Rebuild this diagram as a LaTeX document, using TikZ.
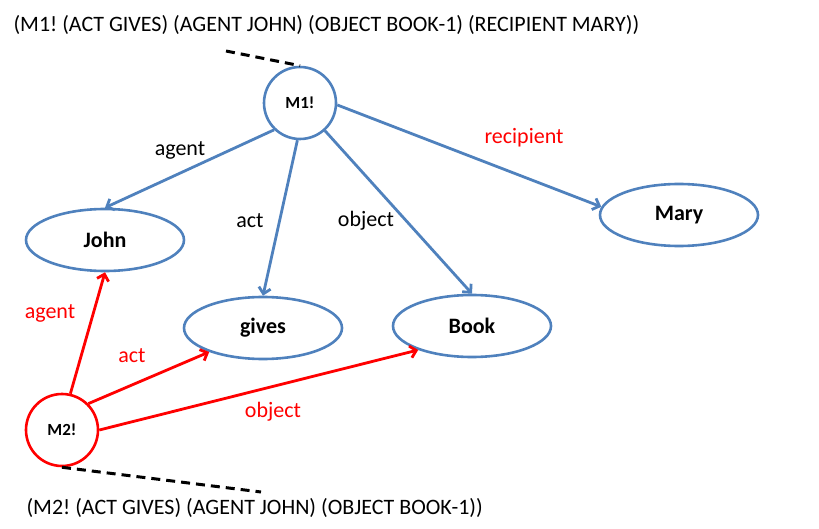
\documentclass[tikz,border=0pt]{standalone}
\usepackage{fontspec}
\setmainfont{Carlito}
\usetikzlibrary{arrows.meta,shapes.geometric}
\frenchspacing

\definecolor{nodeblue}{HTML}{4F81BD}
\definecolor{linkred}{HTML}{FF0000}

\begin{document}
\begin{tikzpicture}[x=1pt,y=-1pt,
  thing/.style={ellipse,draw=nodeblue,line width=2.6pt,inner sep=0pt,
    minimum width=158pt,minimum height=62pt,font=\fontsize{22}{26}\selectfont\bfseries},
  prop/.style={circle,line width=2.6pt,inner sep=0pt,minimum size=72pt,
    font=\fontsize{17}{20}\selectfont\bfseries},
  arc/.style={line width=2.8pt,-{Straight Barb[length=6pt,width=12pt]}},
  tag/.style={font=\fontsize{22}{26}\selectfont},
  says/.style={font=\fontsize{22}{26}\selectfont,anchor=west},
  lead/.style={black,line width=3pt,dash pattern=on 9pt off 6pt}]
\useasboundingbox (0,0) rectangle (819,529);

\node[prop,draw=nodeblue] (m1) at (300,103) {M1!};
\node[prop,draw=linkred] (m2) at (62,430) {M2!};
\node[thing] (john) at (105,240) {John};
\node[thing] (gives) at (263,328) {gives};
\node[thing] (book) at (472,326) {Book};
\node[thing] (mary) at (679,215) {Mary};

\node[says] (s1) at (10,25) {(M1! (ACT GIVES) (AGENT JOHN) (OBJECT BOOK-1) (RECIPIENT MARY))};
\node[says] (s2) at (23,508) {(M2! (ACT GIVES) (AGENT JOHN) (OBJECT BOOK-1))};
\coordinate (e1) at (226,51);
\coordinate (e2) at (261,492);
\draw[lead] (e1) -- (m1.north);
\draw[lead] (m2.south) -- (e2);

% blue links of M1!
\draw[arc,nodeblue] (m1.226) -- (john.north);
\draw[arc,nodeblue] (m1.266) -- (gives.north);
\draw[arc,nodeblue] (m1.312) -- (book.north);
\draw[arc,nodeblue] (m1.357) -- (mary.174);
\node[tag] (l1) at (180,150) {agent};
\node[tag] (l2) at (250,221) {act};
\node[tag] (l3) at (366,221) {object};
\node[tag,text=linkred] (l4) at (524,138) {recipient};

% red links of M2!
\draw[arc,linkred] (m2.77) -- (john.south);
\draw[arc,linkred] (m2.45) -- (gives.204);
\draw[arc,linkred] (m2.east) -- (book.204);
\node[tag,text=linkred] (l5) at (50,313) {agent};
\node[tag,text=linkred] (l6) at (132,356) {act};
\node[tag,text=linkred] (l7) at (273,412) {object};
\end{tikzpicture}
\end{document}
